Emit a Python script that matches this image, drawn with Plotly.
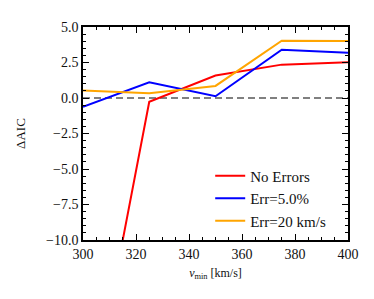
import plotly.graph_objects as go

vmin = [300, 325, 350, 375, 400]
no_errors = [-24.6, -0.27, 1.58, 2.35, 2.51]
err_5pct = [-0.62, 1.10, 0.12, 3.40, 3.18]
err_20kms = [0.53, 0.34, 0.85, 4.04, 4.02]

series = [
    ("No Errors", no_errors, "red"),
    ("Err=5.0%", err_5pct, "blue"),
    ("Err=20 km/s", err_20kms, "orange"),
]

FONT = "Liberation Serif"
fig = go.Figure()

fig.add_trace(go.Scatter(x=[300, 400], y=[0, 0], mode="lines",
                         line=dict(color="gray", width=2, dash="7px,4px"),
                         showlegend=False, hoverinfo="skip"))

for name, vals, col in series:
    fig.add_trace(go.Scatter(x=vmin, y=vals, mode="lines", name=name,
                             line=dict(color=col, width=2)))

axis_common = dict(
    showgrid=False, zeroline=False, showline=True, linecolor="black", linewidth=1.5,
    mirror="ticks", ticks="inside", ticklen=6, tickwidth=1, tickcolor="black",
    tickfont=dict(family=FONT, size=14, color="#111"),
)

fig.update_xaxes(range=[300, 400], dtick=20, tick0=300,
                 minor=dict(dtick=5, ticks="inside", ticklen=3, tickcolor="black", showgrid=False),
                 title=dict(text="<i>v</i><sub>min</sub> [km/s]", font=dict(family=FONT, size=12, color="#111"), standoff=8),
                 **axis_common)
fig.update_yaxes(range=[-10, 5], dtick=2.5, tick0=0, tickformat=".1f",
                 minor=dict(dtick=0.5, ticks="inside", ticklen=3, tickcolor="black", showgrid=False),
                 title=dict(text="ΔAIC", font=dict(family=FONT, size=13, color="#111"), standoff=17),
                 **axis_common)

fig.update_layout(
    width=366, height=291,
    margin=dict(l=73, r=26, t=13, b=59),
    plot_bgcolor="white", paper_bgcolor="white",
    legend=dict(x=0.48, y=0.012, xanchor="left", yanchor="bottom",
                bgcolor="rgba(0,0,0,0)", font=dict(family=FONT, size=15, color="#111"),
                tracegroupgap=0, itemwidth=30),
)

fig.write_html("out.html")
